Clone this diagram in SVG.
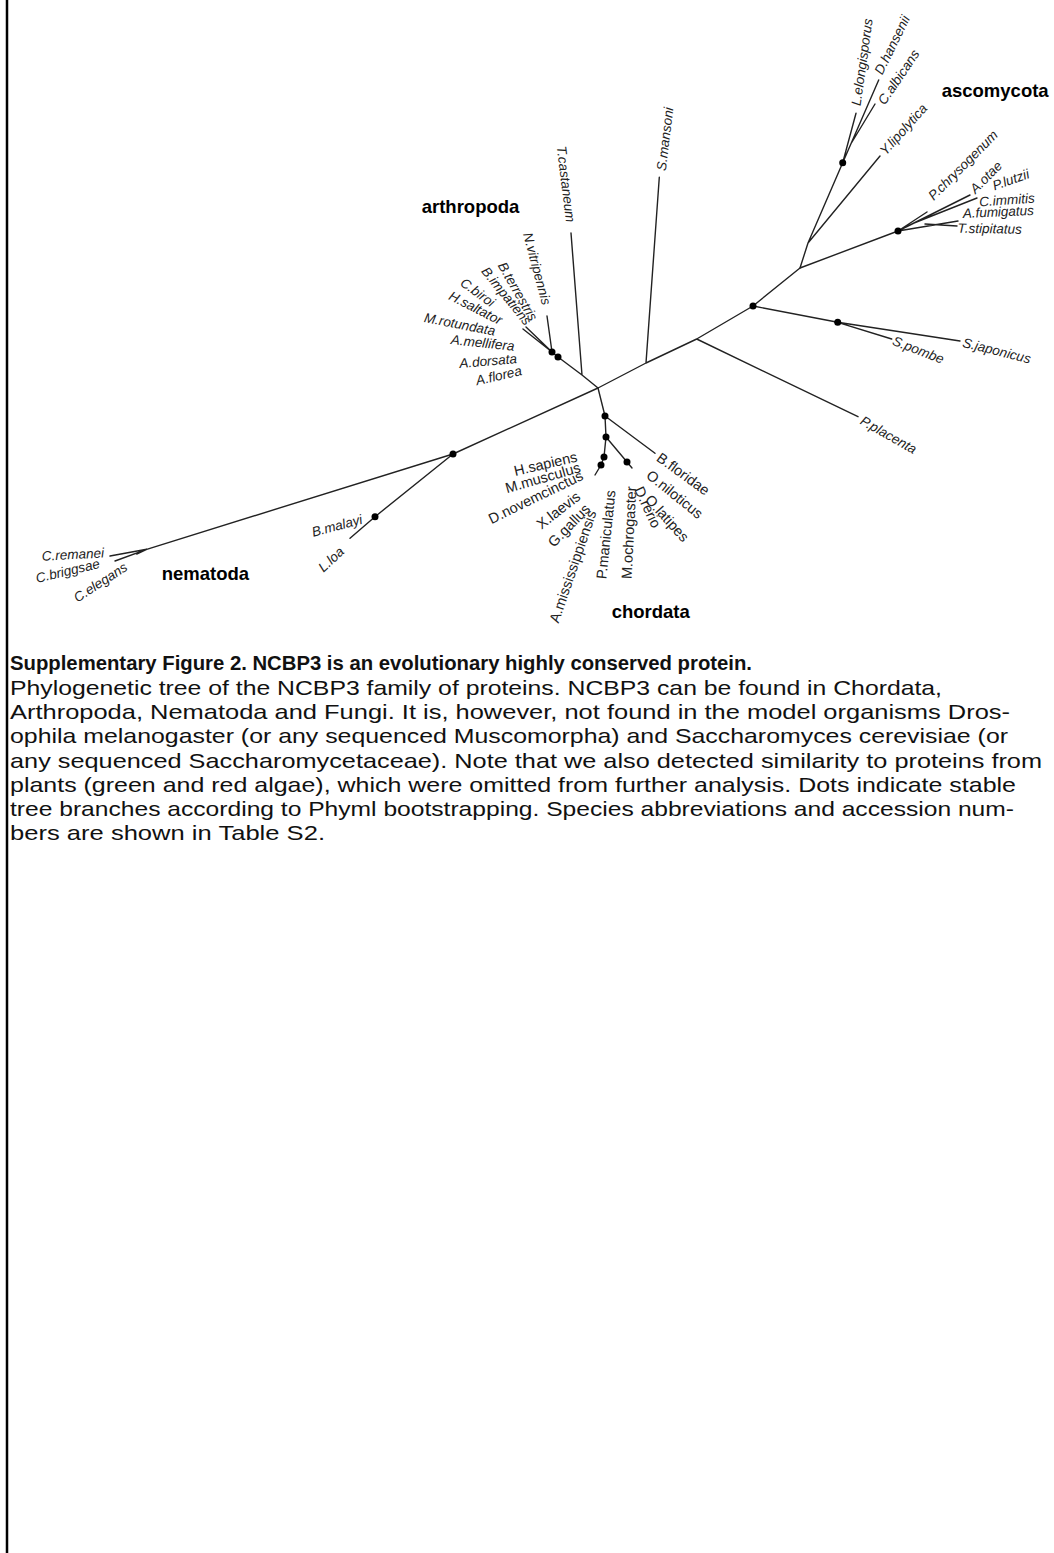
<svg xmlns="http://www.w3.org/2000/svg" width="1054" height="1553" viewBox="0 0 1054 1553">
<style>
.br{fill:none;stroke:#222;stroke-width:1.4;stroke-linecap:round;stroke-linejoin:round}
.dot{fill:#000}
.sp{font-family:"Liberation Sans",Arial,sans-serif;font-size:13.5px;font-style:italic;fill:#222;dominant-baseline:central}
.ch{font-family:"Liberation Sans",Arial,sans-serif;font-size:14.5px;fill:#222;dominant-baseline:central}
.grp{font-family:"Liberation Sans",Arial,sans-serif;font-size:18.5px;font-weight:bold;fill:#000;dominant-baseline:central}
.cap{font-family:"Liberation Sans",Arial,sans-serif;font-size:21px;fill:#111}
.capb{font-family:"Liberation Sans",Arial,sans-serif;font-size:21px;font-weight:bold;fill:#111}
</style>
<rect width="1054" height="1553" fill="#fff"/>
<line x1="7" y1="0" x2="7" y2="1553" stroke="#000" stroke-width="2.5"/>

<g id="connectors">
<path class="br" d="M598,388 L582,375 L558,357 L552,352 M582,375 L571,233 M552,352 L547,316 M552,352 L523,329 M552,352 L526,327"/>
<path class="br" d="M598,388 L646,363 L696.7,339 L753,306 L800,268 M646,363 L659.3,177.3 M696.7,339 L858,416.7"/>
<path class="br" d="M753,306 L837.7,322.3 L891.7,339 M837.7,322.3 L960,341"/>
<path class="br" d="M800,268 L898,231 M800,268 L808,243 L842.7,162.7 M808,243 L880,156 M842.7,162.7 L856,113.3 M842.7,162.7 L878.7,80 M850.8,144 L875,104"/>
<path class="br" d="M898,231 L927,212 M898,231 L970,195 M914,223 L977,198 M898,231 L958,221 M925,224 L957,226"/>
<path class="br" d="M598,388 L605,416 L655,453.3 M605,416 L606,437 L627,462 L632,468 M606,437 L604,457 L601,465 L595,475"/>
<path class="br" d="M598,388 L453,454 L146.7,549.3 L110,556 M146.7,549.3 L115,561 M146.7,549.3 L136.7,554 M453,454 L375,516.7 L350,538.3"/>
</g>

<g id="nodes">
<g id="dot-arthropoda"><circle class="dot" cx="558" cy="357" r="3.5"/><circle class="dot" cx="552" cy="352" r="3.5"/></g>
<g id="dot-fungi"><circle class="dot" cx="753" cy="306" r="3.5"/><circle class="dot" cx="837.7" cy="322.3" r="3.5"/><circle class="dot" cx="842.7" cy="162.7" r="3.5"/><circle class="dot" cx="898" cy="231" r="3.5"/></g>
<g id="dot-chordata"><circle class="dot" cx="605" cy="416" r="3.5"/><circle class="dot" cx="606" cy="437" r="3.5"/><circle class="dot" cx="604" cy="457" r="3.5"/><circle class="dot" cx="601" cy="465" r="3.5"/><circle class="dot" cx="627" cy="462" r="3.5"/></g>
<g id="dot-nematoda"><circle class="dot" cx="453" cy="454" r="3.5"/><circle class="dot" cx="375" cy="516.7" r="3.5"/></g>

<g id="arthropoda">
<text class="grp" x="421.7" y="206">arthropoda</text>
<text class="sp" transform="translate(527.3,232.8) rotate(75)">N.vitripennis</text>
<text class="sp" transform="translate(501.3,263.2) rotate(60)">B.terrestris</text>
<text class="sp" transform="translate(484.2,268.6) rotate(51)">B.impatiens</text>
<text class="sp" transform="translate(461.8,281) rotate(36)">C.biroi</text>
<text class="sp" transform="translate(449.7,294.9) rotate(27)">H.saltator</text>
<text class="sp" transform="translate(424.4,317.5) rotate(11)">M.rotundata</text>
<text class="sp" transform="translate(451,339.6) rotate(6)">A.mellifera</text>
<text class="sp" transform="translate(459.3,363.6) rotate(-5)">A.dorsata</text>
<text class="sp" transform="translate(476.1,380.9) rotate(-13)">A.florea</text>
<text class="sp" transform="translate(561.2,146) rotate(83)">T.castaneum</text>
</g>

<g id="schistosoma">
<text class="sp" transform="translate(661.2,170.7) rotate(-83)">S.mansoni</text>
</g>

<g id="basidio">
<text class="sp" transform="translate(861.5,419.7) rotate(29.5)">P.placenta</text>
<text class="sp" transform="translate(893,340.3) rotate(21)">S.pombe</text>
<text class="sp" transform="translate(962.8,342.3) rotate(14)">S.japonicus</text>
</g>

<g id="ascomycota">
<text class="grp" x="941.7" y="90">ascomycota</text>
<text class="sp" transform="translate(856.1,105.7) rotate(-82)">L.elongisporus</text>
<text class="sp" transform="translate(878.2,73.6) rotate(-64)">D.hansenii</text>
<text class="sp" transform="translate(881.1,103.3) rotate(-56)">C.albicans</text>
<text class="sp" transform="translate(882.3,153) rotate(-48)">Y.lipolytica</text>
<text class="sp" transform="translate(930.5,197.8) rotate(-45)">P.chrysogenum</text>
<text class="sp" transform="translate(972.2,191.1) rotate(-45)">A.otae</text>
<text class="sp" transform="translate(992.9,186.3) rotate(-19.5)">P.lutzii</text>
<text class="sp" transform="translate(979.3,202) rotate(-4)">C.immitis</text>
<text class="sp" transform="translate(962.7,213.5) rotate(-2.5)">A.fumigatus</text>
<text class="sp" transform="translate(957.7,228.2) rotate(1)">T.stipitatus</text>
</g>

<g id="chordata">
<text class="grp" x="611.7" y="611.7">chordata</text>
<text class="ch" text-anchor="end" transform="translate(577,456.5) rotate(-13)">H.sapiens</text>
<text class="ch" text-anchor="end" transform="translate(580,467) rotate(-16)">M.musculus</text>
<text class="ch" text-anchor="end" transform="translate(582,474.5) rotate(-26)">D.novemcinctus</text>
<text class="ch" transform="translate(538.5,525.8) rotate(-38)">X.laevis</text>
<text class="ch" transform="translate(550.5,544.6) rotate(-46)">G.gallus</text>
<text class="ch" transform="translate(553.7,622.1) rotate(-71)">A.mississippiensis</text>
<text class="ch" transform="translate(601.3,579) rotate(-84)">P.maniculatus</text>
<text class="ch" transform="translate(626.5,579) rotate(-87)">M.ochrogaster</text>
<text class="ch" transform="translate(638.5,487.5) rotate(65)">D.rerio</text>
<text class="ch" transform="translate(648,497) rotate(48)">O.latipes</text>
<text class="ch" transform="translate(648.5,473) rotate(39)">O.niloticus</text>
<text class="ch" transform="translate(658.5,456) rotate(36)">B.floridae</text>
</g>

<g id="nematoda">
<text class="grp" x="161.7" y="573.3">nematoda</text>
<text class="sp" transform="translate(41.7,556.2) rotate(-3)">C.remanei</text>
<text class="sp" transform="translate(36,578.5) rotate(-13.5)">C.briggsae</text>
<text class="sp" transform="translate(75,598.9) rotate(-33)">C.elegans</text>
<text class="sp" transform="translate(312,532.5) rotate(-15)">B.malayi</text>
<text class="sp" transform="translate(320.4,569.4) rotate(-43)">L.loa</text>
</g>
</g>

<g id="caption">
<text class="capb" x="10" y="670" textLength="742" lengthAdjust="spacingAndGlyphs">Supplementary Figure 2. NCBP3 is an evolutionary highly conserved protein.</text>
<text class="cap" x="10" y="694.5" textLength="932" lengthAdjust="spacingAndGlyphs">Phylogenetic tree of the NCBP3 family of proteins. NCBP3 can be found in Chordata,</text>
<text class="cap" x="10" y="719" textLength="1000" lengthAdjust="spacingAndGlyphs">Arthropoda, Nematoda and Fungi. It is, however, not found in the model organisms Dros-</text>
<text class="cap" x="10" y="743" textLength="998" lengthAdjust="spacingAndGlyphs">ophila melanogaster (or any sequenced Muscomorpha) and Saccharomyces cerevisiae (or</text>
<text class="cap" x="10" y="767.5" textLength="1032" lengthAdjust="spacingAndGlyphs">any sequenced Saccharomycetaceae). Note that we also detected similarity to proteins from</text>
<text class="cap" x="10" y="791.5" textLength="1006" lengthAdjust="spacingAndGlyphs">plants (green and red algae), which were omitted from further analysis. Dots indicate stable</text>
<text class="cap" x="10" y="816" textLength="1004" lengthAdjust="spacingAndGlyphs">tree branches according to Phyml bootstrapping. Species abbreviations and accession num-</text>
<text class="cap" x="10" y="840" textLength="315" lengthAdjust="spacingAndGlyphs">bers are shown in Table S2.</text>
</g>
</svg>
